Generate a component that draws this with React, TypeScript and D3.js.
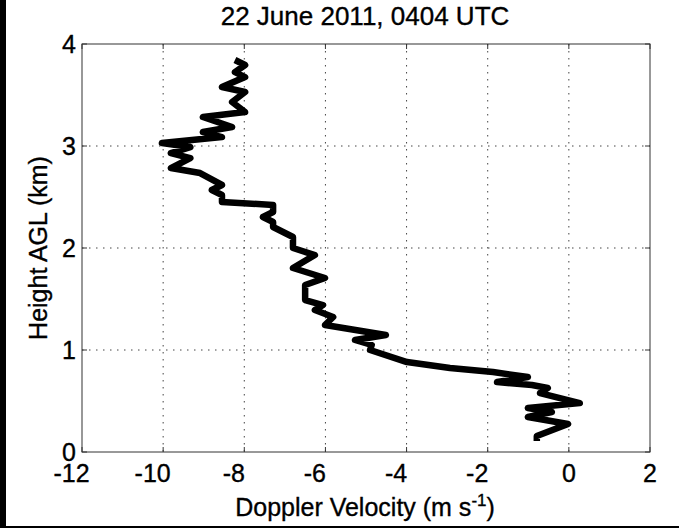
import React from "react";
import * as d3 from "d3";

const heights = [0.108, 0.157, 0.275, 0.343, 0.392, 0.431, 0.48, 0.578, 0.627, 0.657, 0.686, 0.735, 0.784, 0.824, 0.882, 1.0, 1.049, 1.098, 1.147, 1.245, 1.324, 1.392, 1.441, 1.49, 1.637, 1.706, 1.804, 1.931, 2.0, 2.108, 2.206, 2.255, 2.304, 2.353, 2.422, 2.451, 2.52, 2.569, 2.618, 2.735, 2.784, 2.882, 2.931, 2.99, 3.029, 3.088, 3.137, 3.186, 3.284, 3.333, 3.431, 3.529, 3.578, 3.676, 3.725, 3.794, 3.843];
const velocities = [-0.79, -0.79, -0.02, -1.01, -0.42, -1.01, 0.27, -0.71, -0.52, -0.91, -1.77, -1.01, -1.87, -2.93, -3.99, -4.9, -4.86, -5.27, -4.51, -6.01, -5.81, -6.26, -6.06, -6.5, -6.5, -6.01, -6.8, -6.26, -6.8, -6.8, -7.29, -7.29, -7.54, -7.29, -7.29, -8.55, -8.55, -8.8, -8.55, -9.09, -9.81, -9.33, -9.81, -9.33, -10.03, -8.55, -9.02, -8.3, -9.02, -7.98, -8.3, -7.98, -8.55, -7.98, -8.23, -7.98, -8.23];
const xTicks = [-12, -10, -8, -6, -4, -2, 0, 2];
const yTicks = [0, 1, 2, 3, 4];
const title = "22 June 2011, 0404 UTC";

export default function App() {
  const W = 679, H = 528;
  const L = 82, R = 650, T = 44, B = 452;
  const x = d3.scaleLinear().domain([-12, 2]).range([L, R]);
  const y = d3.scaleLinear().domain([0, 4]).range([B, T]);
  const pts: [number, number][] = heights.map((h, i) => [velocities[i], h]);
  const line = d3.line<[number, number]>().x(d => x(d[0])).y(d => y(d[1]));
  const font = "Liberation Sans, Arial, Helvetica, sans-serif";
  const txt = { fill: "#000", stroke: "#000", strokeWidth: 0.35 };
  return (
    <svg width={W} height={H} style={{ position: "absolute", left: 0, top: 0, background: "#fff" }} fontFamily={font}>
      <rect x={0} y={0} width={W} height={H} fill="#fff" />
      <rect x={0} y={0} width={6} height={H} fill="#000" />
      <rect x={0} y={526} width={W} height={2} fill="#000" />
      {xTicks.filter(t => t > -12 && t < 2).map(t => (
        <line key={"gx" + t} x1={x(t)} x2={x(t)} y1={T} y2={B} stroke="#444" strokeWidth={1} strokeDasharray="1.5,5.5" />
      ))}
      {yTicks.filter(t => t > 0 && t < 4).map(t => (
        <line key={"gy" + t} x1={L} x2={R} y1={y(t)} y2={y(t)} stroke="#444" strokeWidth={1} strokeDasharray="1.5,5.5" />
      ))}
      {xTicks.map(t => (
        <g key={"tx" + t}>
          <line x1={x(t)} x2={x(t)} y1={B} y2={B - 5} stroke="#333" />
          <line x1={x(t)} x2={x(t)} y1={T} y2={T + 5} stroke="#333" />
          <text x={x(t) + (t < 0 ? -10.5 : 0)} y={482} textAnchor="middle" fontSize={25} {...txt}>{t}</text>
        </g>
      ))}
      {yTicks.map(t => (
        <g key={"ty" + t}>
          <line x1={L} x2={L + 5} y1={y(t)} y2={y(t)} stroke="#333" />
          <line x1={R} x2={R - 5} y1={y(t)} y2={y(t)} stroke="#333" />
          <text x={76} y={y(t) + 9} textAnchor="end" fontSize={25} {...txt}>{t}</text>
        </g>
      ))}
      <rect x={L} y={T} width={R - L} height={B - T} fill="none" stroke="#333" strokeWidth={1} />
      <path d={line(pts) || ""} fill="none" stroke="#000" strokeWidth={6.5} strokeLinejoin="round" />
      <text x={365} y={25} textAnchor="middle" fontSize={26} {...txt}>{title}</text>
      <text x={365} y={516} textAnchor="middle" fontSize={25} {...txt}>
        Doppler Velocity (m s<tspan dy={-10} fontSize={17}>-1</tspan><tspan dy={10}>)</tspan>
      </text>
      <text transform={`translate(47,${(T + B) / 2}) rotate(-90)`} textAnchor="middle" fontSize={25} {...txt}>Height AGL (km)</text>
    </svg>
  );
}
